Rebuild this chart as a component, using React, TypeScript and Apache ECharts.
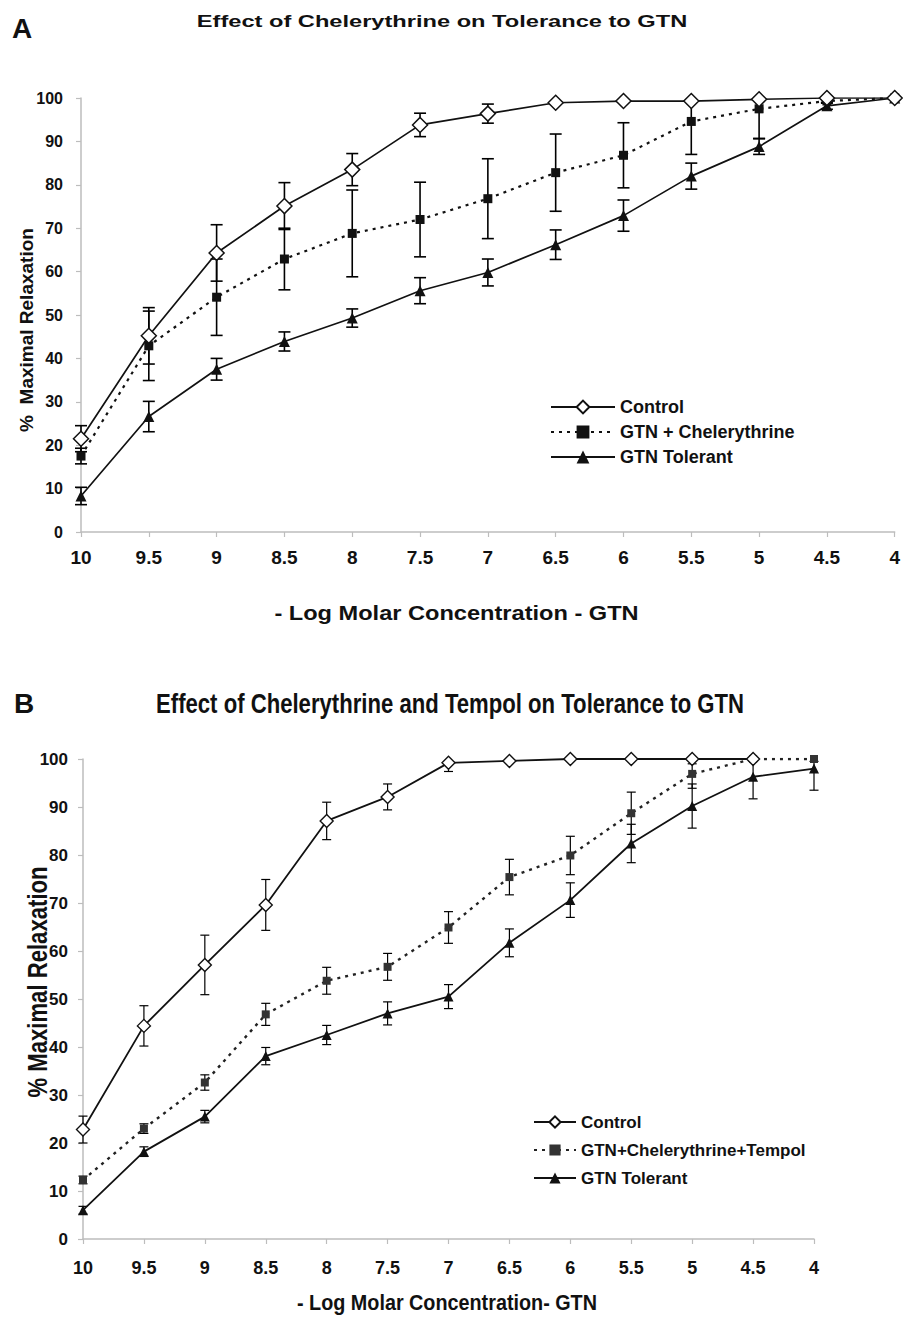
import React, { useEffect, useRef } from "react";
import * as echarts from "echarts";

const categories = ["10", "9.5", "9", "8.5", "8", "7.5", "7", "6.5", "6", "5.5", "5", "4.5", "4"];

// Panel A
const controlA = [21.5, 45.2, 64.3, 75.1, 83.5, 93.8, 96.4, 98.9, 99.3, 99.3, 99.7, 100, 100];
const controlAErr = [3, 6.5, 6.5, 5.4, 3.7, 2.7, 2.2, 0, 0, 0, 0, 0, 0];
const chelA = [17.5, 42.9, 54.1, 62.9, 68.8, 72.0, 76.8, 82.8, 86.8, 94.6, 97.5, 99.3, 100];
const chelAErr = [1.8, 8, 8.8, 7.1, 10, 8.6, 9.2, 8.9, 7.5, 7.6, 6.8, 0.5, 0];
const tolA = [8.3, 26.6, 37.5, 43.9, 49.3, 55.6, 59.8, 66.2, 72.9, 82.0, 88.8, 98.2, 100];
const tolAErr = [2, 3.5, 2.5, 2.2, 2.1, 3, 3.1, 3.4, 3.6, 3, 1.8, 0.8, 0];

// Panel B
const controlB = [22.8, 44.4, 57.1, 69.6, 87.1, 92.1, 99.2, 99.6, 100, 100, 100, 100, null];
const controlBErr = [2.8, 4.2, 6.2, 5.3, 3.9, 2.7, 1.8, 0.5, 0, 0, 1, 0, 0];
const chelB = [12.3, 23.0, 32.6, 46.8, 53.8, 56.7, 64.9, 75.4, 79.9, 88.7, 96.9, 100, 100];
const chelBErr = [0.8, 1, 1.6, 2.3, 2.8, 2.8, 3.3, 3.7, 4, 4.4, 3, 0.5, 0.5];
const tolB = [6.0, 18.2, 25.5, 38.1, 42.5, 47.0, 50.5, 61.7, 70.6, 82.4, 90.2, 96.3, 98.0];
const tolBErr = [0.8, 1, 1.3, 1.8, 2, 2.4, 2.5, 2.9, 3.6, 4, 4.6, 4.6, 4.5];

const titleA = "Effect of Chelerythrine on Tolerance to GTN";
const titleB = "Effect of Chelerythrine and Tempol on Tolerance to GTN";
const yNameA = "%  Maximal Relaxation";
const yNameB = "% Maximal Relaxation";
const xNameA = "- Log Molar Concentration - GTN";
const xNameB = "- Log Molar Concentration- GTN";
const legendA = ["Control", "GTN + Chelerythrine", "GTN Tolerant"];
const legendB = ["Control", "GTN+Chelerythrine+Tempol", "GTN Tolerant"];

const Y_MAX = 100;
const FONT = "'Liberation Sans', Arial, sans-serif";

function errData(vals: (number | null)[], errs: number[]) {
  const out: number[][] = [];
  vals.forEach((v, i) => {
    if (v == null || !errs[i]) return;
    const hiRaw = v + errs[i];
    const clipped = hiRaw > Y_MAX ? 1 : 0;
    out.push([i, v - errs[i], Math.min(hiRaw, Y_MAX), clipped]);
  });
  return out;
}

function errSeries(vals: (number | null)[], errs: number[], capW: number, lw: number) {
  return {
    type: "custom",
    z: 1,
    silent: true,
    encode: { x: 0, y: [1, 2] },
    data: errData(vals, errs),
    renderItem: (params: any, api: any) => {
      const x = api.value(0);
      const lo = api.value(1);
      const hi = api.value(2);
      const clipped = api.value(3);
      const p1 = api.coord([x, hi]);
      const p2 = api.coord([x, lo]);
      const st = { stroke: "#000", lineWidth: lw };
      const children: any[] = [
        { type: "line", shape: { x1: p1[0], y1: p1[1], x2: p2[0], y2: p2[1] }, style: st },
        { type: "line", shape: { x1: p2[0] - capW / 2, y1: p2[1], x2: p2[0] + capW / 2, y2: p2[1] }, style: st },
      ];
      if (!clipped) {
        children.push({ type: "line", shape: { x1: p1[0] - capW / 2, y1: p1[1], x2: p1[0] + capW / 2, y2: p1[1] }, style: st });
      }
      return { type: "group", children };
    },
  };
}

function axes(xLabelSize: number, xMargin: number, yLabelSize: number, yMargin: number) {
  const axisColor = "#bdbdbd";
  return {
    xAxis: {
      type: "category",
      data: categories,
      boundaryGap: false,
      axisLine: { show: true, lineStyle: { color: axisColor, width: 1.5 } },
      axisTick: { show: true, alignWithLabel: true, length: 5, lineStyle: { color: axisColor, width: 1.2 } },
      axisLabel: { fontSize: xLabelSize, fontWeight: "bold", color: "#111", margin: xMargin, fontFamily: FONT },
      splitLine: { show: false },
    },
    yAxis: {
      type: "value",
      min: 0,
      max: Y_MAX,
      interval: 10,
      axisLine: { show: true, lineStyle: { color: axisColor, width: 1.5 } },
      axisTick: { show: true, length: 5, lineStyle: { color: axisColor, width: 1.2 } },
      axisLabel: { fontSize: yLabelSize, fontWeight: "bold", color: "#111", margin: yMargin, fontFamily: FONT },
      splitLine: { show: false },
    },
  };
}

function optionA() {
  return {
    animation: false,
    backgroundColor: "#fff",
    grid: { left: 81, top: 98, width: 814, height: 434, containLabel: false },
    ...axes(19, 16, 16, 18),
    legend: {
      orient: "vertical",
      left: 550,
      top: 398,
      padding: 0,
      itemWidth: 64,
      itemHeight: 16,
      itemGap: 7,
      data: legendA,
      textStyle: { fontSize: 18, lineHeight: 18, fontWeight: "bold", color: "#111", fontFamily: FONT },
      selectedMode: false,
    },
    graphic: [
      { type: "text", x: 12, y: 28, style: { text: "A", font: `bold 28px ${FONT}`, fill: "#111", textAlign: "left", textVerticalAlign: "middle" } },
      { type: "text", x: 442, y: 21, scaleX: 1.39, style: { text: titleA, font: `bold 17px ${FONT}`, fill: "#111", textAlign: "center", textVerticalAlign: "middle" } },
      { type: "text", x: 26, y: 330, rotation: Math.PI / 2, style: { text: yNameA, font: `bold 19px ${FONT}`, fill: "#111", textAlign: "center", textVerticalAlign: "middle" } },
      { type: "text", x: 456.5, y: 613.5, scaleX: 1.18, style: { text: xNameA, font: `bold 20px ${FONT}`, fill: "#111", textAlign: "center", textVerticalAlign: "middle" } },
    ],
    series: [
      errSeries(controlA, controlAErr, 12, 1.6),
      errSeries(chelA, chelAErr, 12, 1.6),
      errSeries(tolA, tolAErr, 12, 1.6),
      {
        name: legendA[1], type: "line", data: chelA, z: 2, symbol: "rect", symbolSize: 9,
        itemStyle: { color: "#111" }, lineStyle: { color: "#111", width: 2.2, type: [3, 5] },
      },
      {
        name: legendA[2], type: "line", data: tolA, z: 2, symbol: "triangle", symbolSize: 11,
        itemStyle: { color: "#111" }, lineStyle: { color: "#111", width: 1.7 },
      },
      {
        name: legendA[0], type: "line", data: controlA, z: 3, symbol: "diamond", symbolSize: 15,
        itemStyle: { color: "#fff", borderColor: "#111", borderWidth: 1.5 }, lineStyle: { color: "#111", width: 1.7 },
      },
    ],
  };
}

function optionB() {
  return {
    animation: false,
    backgroundColor: "#fff",
    grid: { left: 83, top: 109, width: 731, height: 480, containLabel: false },
    ...axes(18, 20, 17, 15),
    legend: {
      orient: "vertical",
      left: 533,
      top: 463,
      padding: 0,
      itemWidth: 42,
      itemHeight: 14,
      itemGap: 10,
      data: legendB,
      textStyle: { fontSize: 17, lineHeight: 18, fontWeight: "bold", color: "#111", fontFamily: FONT },
      selectedMode: false,
    },
    graphic: [
      { type: "text", x: 14, y: 53, style: { text: "B", font: `bold 28px ${FONT}`, fill: "#111", textAlign: "left", textVerticalAlign: "middle" } },
      { type: "text", x: 450, y: 53.5, scaleX: 0.82, style: { text: titleB, font: `bold 27px ${FONT}`, fill: "#111", textAlign: "center", textVerticalAlign: "middle" } },
      { type: "text", x: 38, y: 332, rotation: Math.PI / 2, scaleX: 0.82, style: { text: yNameB, font: `bold 27px ${FONT}`, fill: "#111", textAlign: "center", textVerticalAlign: "middle" } },
      { type: "text", x: 447, y: 652, scaleX: 0.9, style: { text: xNameB, font: `bold 22px ${FONT}`, fill: "#111", textAlign: "center", textVerticalAlign: "middle" } },
    ],
    series: [
      errSeries(controlB, controlBErr, 9, 1.2),
      errSeries(chelB, chelBErr, 9, 1.2),
      errSeries(tolB, tolBErr, 9, 1.2),
      {
        name: legendB[1], type: "line", data: chelB, z: 2, symbol: "rect", symbolSize: 8,
        itemStyle: { color: "#333" }, lineStyle: { color: "#222", width: 2.4, type: [3, 5] },
      },
      {
        name: legendB[2], type: "line", data: tolB, z: 2, symbol: "triangle", symbolSize: 10,
        itemStyle: { color: "#111" }, lineStyle: { color: "#111", width: 1.8 },
      },
      {
        name: legendB[0], type: "line", data: controlB, z: 3, symbol: "diamond", symbolSize: 13,
        itemStyle: { color: "#fff", borderColor: "#111", borderWidth: 1.4 }, lineStyle: { color: "#111", width: 1.8 },
      },
    ],
  };
}

export default function App() {
  const refA = useRef<HTMLDivElement>(null);
  const refB = useRef<HTMLDivElement>(null);
  useEffect(() => {
    document.body.style.margin = "0";
    const a = echarts.init(refA.current!, undefined, { renderer: "svg" });
    const b = echarts.init(refB.current!, undefined, { renderer: "svg" });
    a.setOption(optionA() as any);
    b.setOption(optionB() as any);
    return () => {
      a.dispose();
      b.dispose();
    };
  }, []);
  return (
    <div style={{ position: "relative", width: 903, height: 1318, background: "#fff" }}>
      <div ref={refA} style={{ position: "absolute", left: 0, top: 0, width: 903, height: 650 }} />
      <div ref={refB} style={{ position: "absolute", left: 0, top: 650, width: 903, height: 668 }} />
    </div>
  );
}
